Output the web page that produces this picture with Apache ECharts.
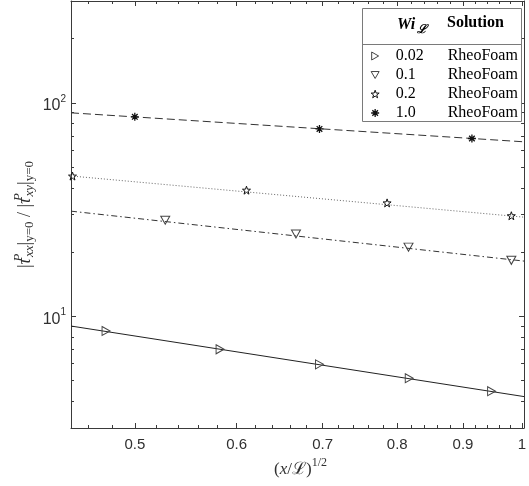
<!DOCTYPE html>
<html><head><meta charset="utf-8">
<script src="https://cdn.jsdelivr.net/npm/echarts@6/dist/echarts.min.js"></script>
<style>html,body{margin:0;padding:0;background:#fff}#c{width:529px;height:486px}</style>
</head><body><div id="c"></div>
<script>
// ---- axis ticks ----
const xTicks = [0.5, 0.6, 0.7, 0.8, 0.9, 1];
const xTickLabels = ['0.5', '0.6', '0.7', '0.8', '0.9', '1'];
const xMinorTicks = [0.46,0.48,0.52,0.54,0.56,0.58,0.62,0.64,0.66,0.68,0.72,0.74,0.76,0.78,0.82,0.84,0.86,0.88,0.92,0.94,0.96,0.98];
const xRange = [0.446, 1.004];
const yTicks = [10, 100];
const yTickExponents = ['1', '2'];
const yMinorTicks = [4,5,6,7,8,9,20,30,40,50,60,70,80,90,200];
const yRange = [3, 300];

// ---- legend ----
const wiLabels = ['0.02', '0.1', '0.2', '1.0'];
const solutions = ['RheoFoam', 'RheoFoam', 'RheoFoam', 'RheoFoam'];

// ---- RheoFoam markers ----
const markX_002 = [0.4749, 0.5825, 0.696, 0.8174, 0.9473];
const markY_002 = [8.54, 7.01, 5.96, 5.13, 4.46];
const markX_01 = [0.528, 0.6673, 0.8163, 0.9814];
const markY_01 = [28.2, 24.3, 21.1, 18.3];
const markX_02 = [0.4472, 0.6107, 0.7856, 0.9814];
const markY_02 = [45.4, 39.0, 34.0, 29.6];
const markX_10 = [0.5, 0.696, 0.9145];
const markY_10 = [86.0, 75.5, 68.1];

// ---- reference lines (end points) ----
const lineX = [0.446, 1.004];
const lineY_002 = [9.01, 4.21];
const lineY_01 = [31.1, 18.15];
const lineY_02 = [45.45, 29.15];
const lineY_10 = [89.8, 65.7];

const L = Math.log10;
const pts = (xs, ys) => xs.map((x, i) => [L(x), L(ys[i])]);

const sans = 'Liberation Sans, Arial, Helvetica, sans-serif';
const serif = 'Liberation Serif, Times New Roman, DejaVu Serif, serif';
const axisColor = '#3a3a3a';
const ink = '#303030';

function fmtX(v) {
  for (let i = 0; i < xTicks.length; i++) if (Math.abs(L(xTicks[i]) - v) < 1e-9) return xTickLabels[i];
  return '';
}
function fmtY(v) {
  for (let i = 0; i < yTicks.length; i++) if (Math.abs(L(yTicks[i]) - v) < 1e-9) return '{b|10}{s|' + yTickExponents[i] + '}';
  return '';
}

function xAx(pos, vals, len, main) {
  return {
    type: 'value', position: pos, min: L(xRange[0]), max: L(xRange[1]),
    axisLine: { show: main, onZero: false, lineStyle: { color: axisColor, width: 1 } },
    axisTick: { show: true, inside: true, length: len, customValues: vals.map(L), lineStyle: { color: axisColor, width: 1 } },
    axisLabel: pos === 'bottom' && main ? {
      show: true, customValues: xTicks.map(L), formatter: fmtX, margin: 9,
      color: ink, fontFamily: sans, fontSize: 15
    } : { show: false },
    splitLine: { show: false }
  };
}
function yAx(pos, vals, len, main) {
  return {
    type: 'value', position: pos, min: L(yRange[0]), max: L(yRange[1]),
    axisLine: { show: main, onZero: false, lineStyle: { color: axisColor, width: 1 } },
    axisTick: { show: true, inside: true, length: len, customValues: vals.map(L), lineStyle: { color: axisColor, width: 1 } },
    axisLabel: pos === 'left' && main ? {
      show: true, customValues: yTicks.map(L), formatter: fmtY, margin: 5,
      color: ink, fontFamily: sans,
      rich: {
        b: { fontSize: 16, fontFamily: sans, color: ink, padding: [6, 0, 0, 0] },
        s: { fontSize: 10, fontFamily: sans, color: ink, padding: [0, 0, 8, 0] }
      }
    } : { show: false },
    splitLine: { show: false }
  };
}

const rightTri = 'path://M0,0L8.66,5L0,10Z';
const downTri = 'path://M0,0L10,0L5,8.66Z';
const starPath = 'path://M0,-10L2.35,-3.24L9.51,-3.09L3.8,1.24L5.88,8.09L0,4L-5.88,8.09L-3.8,1.24L-9.51,-3.09L-2.35,-3.24Z';
const asteriskPath = 'path://M0,-10L0,10M-10,0L10,0M-7,-7L7,7M-7,7L7,-7';

const markStyle = [
  { symbol: rightTri, size: [8, 9], stroke: '#444', bw: 1 },
  { symbol: downTri, size: [9, 8], stroke: '#444', bw: 1 },
  { symbol: starPath, size: 8, stroke: '#111', bw: 1 },
  { symbol: asteriskPath, size: 8, stroke: '#111', bw: 1.3 }
];
const clear = 'rgba(255,255,255,0)';

function lineSeries(ys, dash, color) {
  return {
    type: 'line', data: pts(lineX, ys), symbol: 'none', silent: true, z: 2,
    lineStyle: { color: color, width: 1, type: dash }, xAxisIndex: 0, yAxisIndex: 0
  };
}
function markSeries(k, xs, ys) {
  const m = markStyle[k];
  return {
    type: 'scatter', name: wiLabels[k], data: pts(xs, ys), symbol: m.symbol, symbolSize: m.size,
    itemStyle: { color: clear, borderColor: m.stroke, borderWidth: m.bw, opacity: 1 },
    z: 3, xAxisIndex: 0, yAxisIndex: 0, silent: true
  };
}

const chart = echarts.init(document.getElementById('c'), null, { renderer: 'canvas' });
chart.setOption({
  animation: false,
  backgroundColor: '#fff',
  grid: { left: 71, top: 1, width: 459, height: 427 },
  xAxis: [
    xAx('bottom', xTicks, 5, true), xAx('bottom', xMinorTicks, 3, false),
    xAx('top', xTicks, 5, true), xAx('top', xMinorTicks, 3, false)
  ],
  yAxis: [
    yAx('left', yTicks, 5, true), yAx('left', yMinorTicks, 3, false),
    yAx('right', yTicks, 5, true), yAx('right', yMinorTicks, 3, false)
  ],
  legend: {
    data: wiLabels.map((n, k) => ({
      name: n, icon: markStyle[k].symbol,
      itemStyle: { color: clear, borderColor: markStyle[k].stroke, borderWidth: markStyle[k].bw }
    })),
    orient: 'vertical', left: 370.5, top: 48, padding: 0,
    itemWidth: 8, itemHeight: 8, itemGap: 3, selectedMode: false, z: 20,
    formatter: function (name) {
      const i = wiLabels.indexOf(name);
      return '{a|' + name + '}{b|' + solutions[i] + '}';
    },
    textStyle: {
      fontFamily: serif, fontSize: 16, color: '#000', lineHeight: 16,
      rich: {
        a: { fontFamily: serif, fontSize: 16, color: '#000', width: 52, padding: [0, 0, 0, 11.5], lineHeight: 16 },
        b: { fontFamily: serif, fontSize: 16, color: '#000', lineHeight: 16 }
      }
    }
  },
  graphic: [
    { type: 'rect', z: 15, shape: { x: 362.5, y: 8.5, width: 159, height: 113 }, style: { fill: '#fff', stroke: '#7a7a7a', lineWidth: 1 } },
    { type: 'line', z: 16, shape: { x1: 362.5, y1: 44.5, x2: 521.5, y2: 44.5 }, style: { stroke: '#7a7a7a', lineWidth: 1 } },
    { type: 'text', z: 16, x: 397, y: 25, style: {
        text: '{w|Wi}{s|\u2112}', align: 'left', verticalAlign: 'middle',
        rich: {
          w: { fontFamily: serif, fontSize: 16, fontWeight: 'bold', fontStyle: 'italic', fill: '#000' },
          s: { fontFamily: serif, fontSize: 12, fontWeight: 'bold', fontStyle: 'italic', fill: '#000', padding: [9, 0, 0, 2] }
        } } },
    { type: 'text', z: 16, x: 447, y: 23, style: { text: 'Solution', fontFamily: serif, fontSize: 16, fontWeight: 'bold', fill: '#000', align: 'left', verticalAlign: 'middle' } },
    { type: 'text', x: 300.5, y: 470, style: {
        text: '{n|(}{i|x}{n|/}{l|\u2112}{n|)}{p|1/2}', align: 'center', verticalAlign: 'middle',
        rich: {
          n: { fontFamily: serif, fontSize: 17, fill: ink },
          i: { fontFamily: serif, fontSize: 17, fontStyle: 'italic', fill: ink },
          l: { fontFamily: serif, fontSize: 17, fill: ink },
          p: { fontFamily: serif, fontSize: 12, fill: ink, padding: [0, 0, 14, 0] }
        } } },
    { type: 'text', x: 25, y: 214.5, rotation: Math.PI / 2, style: {
        text: '{b||}{t|\u03C4}{p|P}{s|xx}{b||}{s2|y=0}{b| / |}{t|\u03C4}{p|P}{s|xy}{b||}{s2|y=0}',
        align: 'center', verticalAlign: 'middle',
        rich: {
          b: { fontFamily: serif, fontSize: 18, fill: ink },
          t: { fontFamily: serif, fontSize: 18, fontStyle: 'italic', fill: ink },
          p: { fontFamily: serif, fontSize: 13, fontStyle: 'italic', fill: ink, width: 1, padding: [0, 0, 12, 0] },
          s: { fontFamily: serif, fontSize: 13, fontStyle: 'italic', fill: ink, padding: [10, 0, 0, 0] },
          s2: { fontFamily: serif, fontSize: 13, fill: ink, padding: [10, 0, 0, 0] }
        } } }
  ],
  series: [
    lineSeries(lineY_002, 'solid', '#222'),
    lineSeries(lineY_01, [6, 3, 1.5, 3], '#333'),
    lineSeries(lineY_02, [1, 2], '#666'),
    lineSeries(lineY_10, [8, 4], '#333'),
    markSeries(0, markX_002, markY_002),
    markSeries(1, markX_01, markY_01),
    markSeries(2, markX_02, markY_02),
    markSeries(3, markX_10, markY_10)
  ]
});
</script></body></html>
